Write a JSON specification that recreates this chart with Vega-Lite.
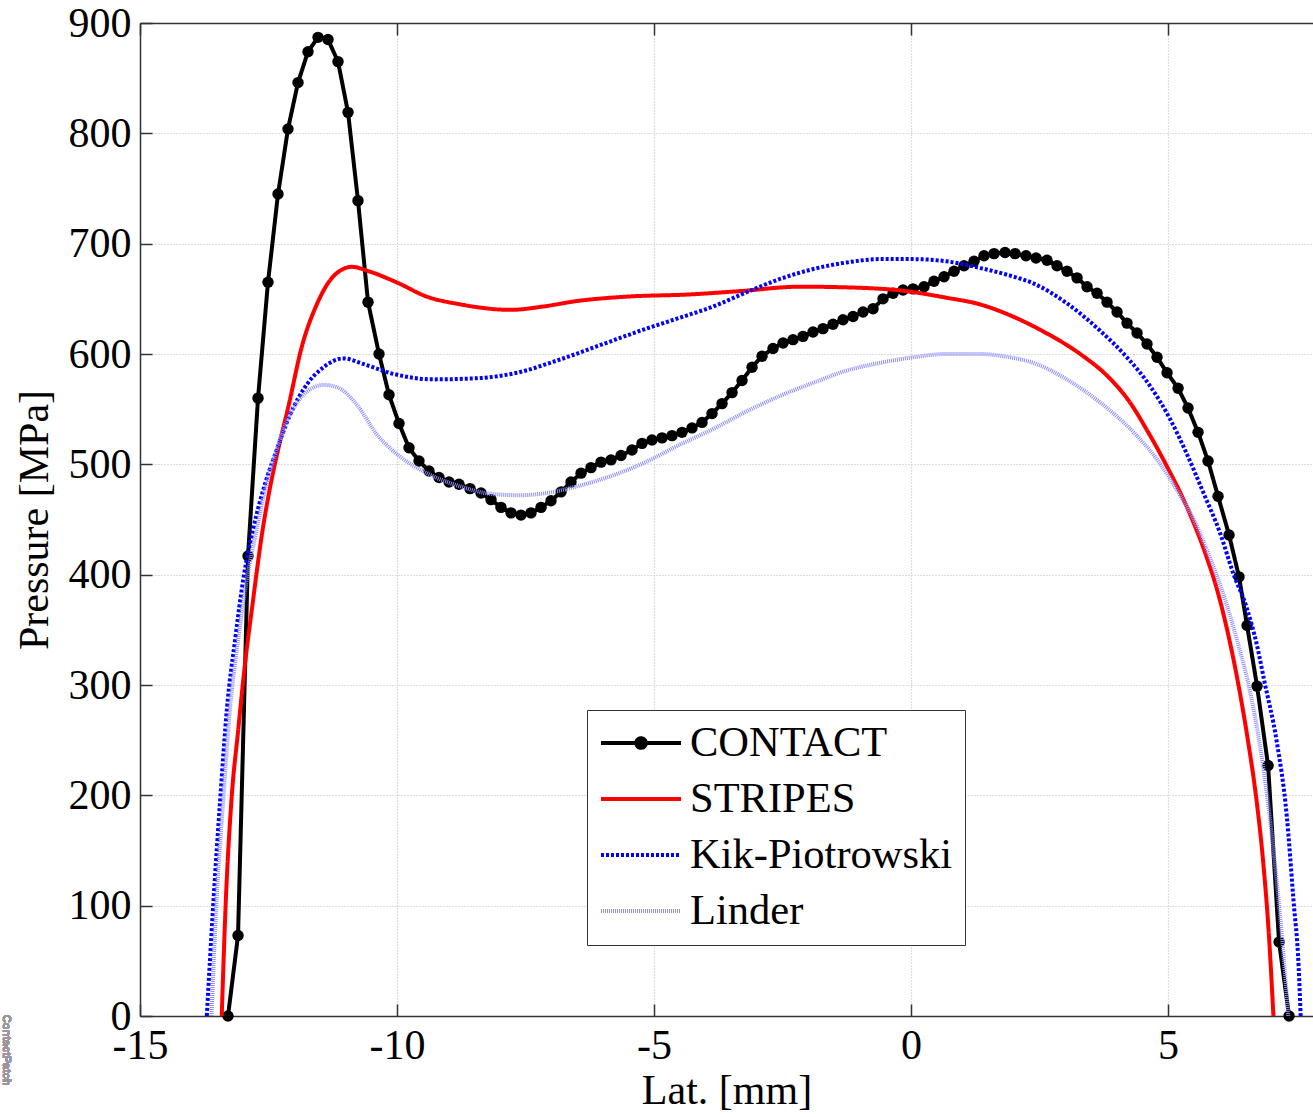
{
  "$schema": "https://vega.github.io/schema/vega-lite/v6.json",
  "width": 1173,
  "height": 993,
  "autosize": {"type": "none"},
  "padding": {"left": 140, "top": 23, "right": 0, "bottom": 101},
  "background": "white",
  "config": {"view": {"stroke": null}, "font": "Liberation Serif"},
  "data": {"values": [
    {"series":"CONTACT","lat":-13.288,"pressure":0},
    {"series":"CONTACT","lat":-13.093,"pressure":73},
    {"series":"CONTACT","lat":-12.899,"pressure":417},
    {"series":"CONTACT","lat":-12.704,"pressure":560},
    {"series":"CONTACT","lat":-12.510,"pressure":665},
    {"series":"CONTACT","lat":-12.315,"pressure":745},
    {"series":"CONTACT","lat":-12.121,"pressure":804},
    {"series":"CONTACT","lat":-11.926,"pressure":846},
    {"series":"CONTACT","lat":-11.732,"pressure":874},
    {"series":"CONTACT","lat":-11.537,"pressure":887},
    {"series":"CONTACT","lat":-11.342,"pressure":885},
    {"series":"CONTACT","lat":-11.148,"pressure":865},
    {"series":"CONTACT","lat":-10.953,"pressure":819},
    {"series":"CONTACT","lat":-10.759,"pressure":739},
    {"series":"CONTACT","lat":-10.564,"pressure":647},
    {"series":"CONTACT","lat":-10.350,"pressure":600},
    {"series":"CONTACT","lat":-10.156,"pressure":563},
    {"series":"CONTACT","lat":-9.961,"pressure":537},
    {"series":"CONTACT","lat":-9.767,"pressure":515},
    {"series":"CONTACT","lat":-9.572,"pressure":503},
    {"series":"CONTACT","lat":-9.377,"pressure":494},
    {"series":"CONTACT","lat":-9.183,"pressure":488},
    {"series":"CONTACT","lat":-8.988,"pressure":484},
    {"series":"CONTACT","lat":-8.794,"pressure":482},
    {"series":"CONTACT","lat":-8.580,"pressure":478},
    {"series":"CONTACT","lat":-8.366,"pressure":474},
    {"series":"CONTACT","lat":-8.171,"pressure":468},
    {"series":"CONTACT","lat":-7.977,"pressure":461},
    {"series":"CONTACT","lat":-7.782,"pressure":456},
    {"series":"CONTACT","lat":-7.588,"pressure":454},
    {"series":"CONTACT","lat":-7.393,"pressure":456},
    {"series":"CONTACT","lat":-7.198,"pressure":461},
    {"series":"CONTACT","lat":-7.004,"pressure":467},
    {"series":"CONTACT","lat":-6.809,"pressure":475},
    {"series":"CONTACT","lat":-6.615,"pressure":484},
    {"series":"CONTACT","lat":-6.420,"pressure":492},
    {"series":"CONTACT","lat":-6.226,"pressure":497},
    {"series":"CONTACT","lat":-6.031,"pressure":502},
    {"series":"CONTACT","lat":-5.837,"pressure":504},
    {"series":"CONTACT","lat":-5.642,"pressure":508},
    {"series":"CONTACT","lat":-5.428,"pressure":513},
    {"series":"CONTACT","lat":-5.233,"pressure":519},
    {"series":"CONTACT","lat":-5.039,"pressure":522},
    {"series":"CONTACT","lat":-4.844,"pressure":524},
    {"series":"CONTACT","lat":-4.650,"pressure":526},
    {"series":"CONTACT","lat":-4.455,"pressure":529},
    {"series":"CONTACT","lat":-4.261,"pressure":533},
    {"series":"CONTACT","lat":-4.066,"pressure":538},
    {"series":"CONTACT","lat":-3.872,"pressure":546},
    {"series":"CONTACT","lat":-3.677,"pressure":555},
    {"series":"CONTACT","lat":-3.482,"pressure":565},
    {"series":"CONTACT","lat":-3.288,"pressure":576},
    {"series":"CONTACT","lat":-3.093,"pressure":588},
    {"series":"CONTACT","lat":-2.899,"pressure":598},
    {"series":"CONTACT","lat":-2.685,"pressure":605},
    {"series":"CONTACT","lat":-2.490,"pressure":610},
    {"series":"CONTACT","lat":-2.296,"pressure":613},
    {"series":"CONTACT","lat":-2.101,"pressure":616},
    {"series":"CONTACT","lat":-1.907,"pressure":620},
    {"series":"CONTACT","lat":-1.712,"pressure":623},
    {"series":"CONTACT","lat":-1.518,"pressure":627},
    {"series":"CONTACT","lat":-1.323,"pressure":631},
    {"series":"CONTACT","lat":-1.128,"pressure":634},
    {"series":"CONTACT","lat":-0.934,"pressure":638},
    {"series":"CONTACT","lat":-0.739,"pressure":641},
    {"series":"CONTACT","lat":-0.545,"pressure":650},
    {"series":"CONTACT","lat":-0.350,"pressure":655},
    {"series":"CONTACT","lat":-0.156,"pressure":658},
    {"series":"CONTACT","lat":0.039,"pressure":659},
    {"series":"CONTACT","lat":0.253,"pressure":661},
    {"series":"CONTACT","lat":0.447,"pressure":666},
    {"series":"CONTACT","lat":0.642,"pressure":670},
    {"series":"CONTACT","lat":0.837,"pressure":675},
    {"series":"CONTACT","lat":1.031,"pressure":680},
    {"series":"CONTACT","lat":1.226,"pressure":684},
    {"series":"CONTACT","lat":1.420,"pressure":689},
    {"series":"CONTACT","lat":1.615,"pressure":691},
    {"series":"CONTACT","lat":1.829,"pressure":692},
    {"series":"CONTACT","lat":2.023,"pressure":691},
    {"series":"CONTACT","lat":2.237,"pressure":689},
    {"series":"CONTACT","lat":2.432,"pressure":687},
    {"series":"CONTACT","lat":2.646,"pressure":685},
    {"series":"CONTACT","lat":2.840,"pressure":680},
    {"series":"CONTACT","lat":3.035,"pressure":675},
    {"series":"CONTACT","lat":3.230,"pressure":669},
    {"series":"CONTACT","lat":3.424,"pressure":661},
    {"series":"CONTACT","lat":3.619,"pressure":655},
    {"series":"CONTACT","lat":3.813,"pressure":647},
    {"series":"CONTACT","lat":4.008,"pressure":638},
    {"series":"CONTACT","lat":4.202,"pressure":628},
    {"series":"CONTACT","lat":4.397,"pressure":619},
    {"series":"CONTACT","lat":4.591,"pressure":609},
    {"series":"CONTACT","lat":4.786,"pressure":597},
    {"series":"CONTACT","lat":4.981,"pressure":583},
    {"series":"CONTACT","lat":5.195,"pressure":569},
    {"series":"CONTACT","lat":5.389,"pressure":551},
    {"series":"CONTACT","lat":5.584,"pressure":529},
    {"series":"CONTACT","lat":5.778,"pressure":503},
    {"series":"CONTACT","lat":5.973,"pressure":471},
    {"series":"CONTACT","lat":6.187,"pressure":436},
    {"series":"CONTACT","lat":6.381,"pressure":398},
    {"series":"CONTACT","lat":6.537,"pressure":354},
    {"series":"CONTACT","lat":6.732,"pressure":299},
    {"series":"CONTACT","lat":6.946,"pressure":227},
    {"series":"CONTACT","lat":7.160,"pressure":67},
    {"series":"CONTACT","lat":7.354,"pressure":0},

    {"series":"STRIPES","lat":-13.41,"pressure":0},
    {"series":"STRIPES","lat":-13.33,"pressure":105},
    {"series":"STRIPES","lat":-13.22,"pressure":196},
    {"series":"STRIPES","lat":-13.09,"pressure":259},
    {"series":"STRIPES","lat":-12.96,"pressure":318},
    {"series":"STRIPES","lat":-12.80,"pressure":377},
    {"series":"STRIPES","lat":-12.63,"pressure":436},
    {"series":"STRIPES","lat":-12.47,"pressure":479},
    {"series":"STRIPES","lat":-12.31,"pressure":514},
    {"series":"STRIPES","lat":-12.11,"pressure":553},
    {"series":"STRIPES","lat":-11.85,"pressure":607},
    {"series":"STRIPES","lat":-11.56,"pressure":645},
    {"series":"STRIPES","lat":-11.30,"pressure":667},
    {"series":"STRIPES","lat":-11.05,"pressure":677},
    {"series":"STRIPES","lat":-10.88,"pressure":679},
    {"series":"STRIPES","lat":-10.55,"pressure":675},
    {"series":"STRIPES","lat":-10.01,"pressure":665},
    {"series":"STRIPES","lat":-9.42,"pressure":652},
    {"series":"STRIPES","lat":-8.77,"pressure":645},
    {"series":"STRIPES","lat":-7.79,"pressure":640},
    {"series":"STRIPES","lat":-7.16,"pressure":643},
    {"series":"STRIPES","lat":-6.50,"pressure":648},
    {"series":"STRIPES","lat":-5.53,"pressure":652},
    {"series":"STRIPES","lat":-4.30,"pressure":654},
    {"series":"STRIPES","lat":-3.33,"pressure":657},
    {"series":"STRIPES","lat":-2.16,"pressure":661},
    {"series":"STRIPES","lat":-0.99,"pressure":660},
    {"series":"STRIPES","lat":-0.28,"pressure":658},
    {"series":"STRIPES","lat":0.69,"pressure":651},
    {"series":"STRIPES","lat":1.34,"pressure":645},
    {"series":"STRIPES","lat":1.93,"pressure":635},
    {"series":"STRIPES","lat":2.51,"pressure":622},
    {"series":"STRIPES","lat":3.35,"pressure":598},
    {"series":"STRIPES","lat":3.80,"pressure":581},
    {"series":"STRIPES","lat":4.26,"pressure":556},
    {"series":"STRIPES","lat":4.59,"pressure":531},
    {"series":"STRIPES","lat":4.98,"pressure":498},
    {"series":"STRIPES","lat":5.36,"pressure":462},
    {"series":"STRIPES","lat":5.75,"pressure":416},
    {"series":"STRIPES","lat":5.95,"pressure":387},
    {"series":"STRIPES","lat":6.14,"pressure":352},
    {"series":"STRIPES","lat":6.37,"pressure":300},
    {"series":"STRIPES","lat":6.56,"pressure":248},
    {"series":"STRIPES","lat":6.72,"pressure":196},
    {"series":"STRIPES","lat":6.85,"pressure":140},
    {"series":"STRIPES","lat":6.96,"pressure":75},
    {"series":"STRIPES","lat":7.05,"pressure":0},

    {"series":"Kik-Piotrowski","lat":-13.70,"pressure":0},
    {"series":"Kik-Piotrowski","lat":-13.57,"pressure":105},
    {"series":"Kik-Piotrowski","lat":-13.44,"pressure":196},
    {"series":"Kik-Piotrowski","lat":-13.31,"pressure":278},
    {"series":"Kik-Piotrowski","lat":-13.15,"pressure":341},
    {"series":"Kik-Piotrowski","lat":-12.99,"pressure":396},
    {"series":"Kik-Piotrowski","lat":-12.80,"pressure":441},
    {"series":"Kik-Piotrowski","lat":-12.57,"pressure":482},
    {"series":"Kik-Piotrowski","lat":-12.34,"pressure":513},
    {"series":"Kik-Piotrowski","lat":-12.08,"pressure":545},
    {"series":"Kik-Piotrowski","lat":-11.76,"pressure":572},
    {"series":"Kik-Piotrowski","lat":-11.43,"pressure":588},
    {"series":"Kik-Piotrowski","lat":-11.04,"pressure":596},
    {"series":"Kik-Piotrowski","lat":-10.66,"pressure":591},
    {"series":"Kik-Piotrowski","lat":-10.07,"pressure":582},
    {"series":"Kik-Piotrowski","lat":-9.29,"pressure":577},
    {"series":"Kik-Piotrowski","lat":-8.45,"pressure":578},
    {"series":"Kik-Piotrowski","lat":-7.67,"pressure":583},
    {"series":"Kik-Piotrowski","lat":-6.83,"pressure":595},
    {"series":"Kik-Piotrowski","lat":-5.99,"pressure":609},
    {"series":"Kik-Piotrowski","lat":-5.21,"pressure":622},
    {"series":"Kik-Piotrowski","lat":-4.49,"pressure":633},
    {"series":"Kik-Piotrowski","lat":-3.85,"pressure":643},
    {"series":"Kik-Piotrowski","lat":-3.20,"pressure":656},
    {"series":"Kik-Piotrowski","lat":-2.55,"pressure":668},
    {"series":"Kik-Piotrowski","lat":-1.90,"pressure":677},
    {"series":"Kik-Piotrowski","lat":-1.25,"pressure":683},
    {"series":"Kik-Piotrowski","lat":-0.60,"pressure":686},
    {"series":"Kik-Piotrowski","lat":0.04,"pressure":686},
    {"series":"Kik-Piotrowski","lat":0.69,"pressure":684},
    {"series":"Kik-Piotrowski","lat":1.34,"pressure":678},
    {"series":"Kik-Piotrowski","lat":1.93,"pressure":671},
    {"series":"Kik-Piotrowski","lat":2.38,"pressure":664},
    {"series":"Kik-Piotrowski","lat":3.03,"pressure":646},
    {"series":"Kik-Piotrowski","lat":3.68,"pressure":621},
    {"series":"Kik-Piotrowski","lat":4.20,"pressure":597},
    {"series":"Kik-Piotrowski","lat":4.65,"pressure":571},
    {"series":"Kik-Piotrowski","lat":5.04,"pressure":541},
    {"series":"Kik-Piotrowski","lat":5.36,"pressure":510},
    {"series":"Kik-Piotrowski","lat":5.69,"pressure":474},
    {"series":"Kik-Piotrowski","lat":6.01,"pressure":438},
    {"series":"Kik-Piotrowski","lat":6.27,"pressure":401},
    {"series":"Kik-Piotrowski","lat":6.53,"pressure":370},
    {"series":"Kik-Piotrowski","lat":6.73,"pressure":336},
    {"series":"Kik-Piotrowski","lat":6.88,"pressure":302},
    {"series":"Kik-Piotrowski","lat":7.11,"pressure":250},
    {"series":"Kik-Piotrowski","lat":7.31,"pressure":181},
    {"series":"Kik-Piotrowski","lat":7.44,"pressure":105},
    {"series":"Kik-Piotrowski","lat":7.54,"pressure":45},
    {"series":"Kik-Piotrowski","lat":7.58,"pressure":0},

    {"series":"Linder","lat":-13.61,"pressure":0},
    {"series":"Linder","lat":-13.51,"pressure":105},
    {"series":"Linder","lat":-13.38,"pressure":196},
    {"series":"Linder","lat":-13.25,"pressure":278},
    {"series":"Linder","lat":-13.09,"pressure":341},
    {"series":"Linder","lat":-12.92,"pressure":396},
    {"series":"Linder","lat":-12.73,"pressure":441},
    {"series":"Linder","lat":-12.54,"pressure":482},
    {"series":"Linder","lat":-12.31,"pressure":518},
    {"series":"Linder","lat":-12.08,"pressure":545},
    {"series":"Linder","lat":-11.82,"pressure":563},
    {"series":"Linder","lat":-11.43,"pressure":572},
    {"series":"Linder","lat":-11.17,"pressure":570},
    {"series":"Linder","lat":-10.78,"pressure":554},
    {"series":"Linder","lat":-10.39,"pressure":527},
    {"series":"Linder","lat":-9.94,"pressure":507},
    {"series":"Linder","lat":-9.42,"pressure":492},
    {"series":"Linder","lat":-8.77,"pressure":480},
    {"series":"Linder","lat":-8.13,"pressure":473},
    {"series":"Linder","lat":-7.61,"pressure":472},
    {"series":"Linder","lat":-7.09,"pressure":474},
    {"series":"Linder","lat":-6.50,"pressure":480},
    {"series":"Linder","lat":-5.86,"pressure":489},
    {"series":"Linder","lat":-5.21,"pressure":501},
    {"series":"Linder","lat":-4.49,"pressure":518},
    {"series":"Linder","lat":-3.85,"pressure":532},
    {"series":"Linder","lat":-3.20,"pressure":548},
    {"series":"Linder","lat":-2.55,"pressure":562},
    {"series":"Linder","lat":-1.90,"pressure":574},
    {"series":"Linder","lat":-1.25,"pressure":585},
    {"series":"Linder","lat":-0.60,"pressure":592},
    {"series":"Linder","lat":0.04,"pressure":597},
    {"series":"Linder","lat":0.69,"pressure":600},
    {"series":"Linder","lat":1.34,"pressure":600},
    {"series":"Linder","lat":1.93,"pressure":597},
    {"series":"Linder","lat":2.38,"pressure":592},
    {"series":"Linder","lat":3.03,"pressure":577},
    {"series":"Linder","lat":3.68,"pressure":556},
    {"series":"Linder","lat":4.33,"pressure":529},
    {"series":"Linder","lat":4.84,"pressure":501},
    {"series":"Linder","lat":5.17,"pressure":477},
    {"series":"Linder","lat":5.49,"pressure":451},
    {"series":"Linder","lat":5.82,"pressure":415},
    {"series":"Linder","lat":6.14,"pressure":373},
    {"series":"Linder","lat":6.34,"pressure":341},
    {"series":"Linder","lat":6.60,"pressure":293},
    {"series":"Linder","lat":6.85,"pressure":226},
    {"series":"Linder","lat":7.05,"pressure":151},
    {"series":"Linder","lat":7.21,"pressure":75},
    {"series":"Linder","lat":7.34,"pressure":0}
  ]},
  "layer": [
    {
      "transform": [{"filter": "datum.series === 'CONTACT'"}],
      "mark": {"type": "point", "filled": true, "shape": "circle", "size": 130, "color": "black", "opacity": 1},
      "encoding": {
        "x": {"field": "lat", "type": "quantitative",
          "scale": {"domain": [-15, 7.82], "nice": false, "zero": false},
          "axis": {"orient": "bottom", "values": [-15, -10, -5, 0, 5], "labelExpr": "'' + datum.value",
            "labelFont": "Liberation Serif", "labelFontSize": 42, "labelColor": "black",
            "labelFlush": false, "labelOverlap": false, "labelPadding": 21,
            "tickSize": -12, "tickColor": "#333", "tickWidth": 1.5,
            "domainColor": "#333", "domainWidth": 1.5,
            "grid": true, "gridColor": "#bcbcbc", "gridDash": [1, 2], "gridWidth": 1.2,
            "title": "Lat. [mm]", "titleFont": "Liberation Serif", "titleFontSize": 42,
            "titleFontWeight": "normal", "titleColor": "black", "titlePadding": 4}},
        "y": {"field": "pressure", "type": "quantitative",
          "scale": {"domain": [0, 900], "nice": false},
          "axis": {"values": [0, 100, 200, 300, 400, 500, 600, 700, 800, 900],
            "labelFont": "Liberation Serif", "labelFontSize": 42, "labelColor": "black",
            "labelFlush": false, "labelOverlap": false, "labelPadding": 21,
            "tickSize": -12, "tickColor": "#333", "tickWidth": 1.5,
            "domainColor": "#333", "domainWidth": 1.5,
            "grid": true, "gridColor": "#bcbcbc", "gridDash": [1, 2], "gridWidth": 1.2,
            "title": "Pressure [MPa]", "titleFont": "Liberation Serif", "titleFontSize": 42,
            "titleFontWeight": "normal", "titleColor": "black", "titlePadding": 12}}
      }
    },
    {
      "transform": [{"filter": "datum.series === 'CONTACT'"}],
      "mark": {"type": "line", "strokeWidth": 4, "interpolate": "linear"},
      "encoding": {
        "x": {"field": "lat", "type": "quantitative",
          "scale": {"domain": [-15, 7.82], "nice": false, "zero": false},
          "axis": {"orient": "top", "values": [-15, -10, -5, 0, 5], "labels": false,
            "tickSize": -12, "tickColor": "#333", "tickWidth": 1.5,
            "domainColor": "#333", "domainWidth": 1.5, "grid": false, "title": null}},
        "y": {"field": "pressure", "type": "quantitative", "scale": {"domain": [0, 900], "nice": false}},
        "color": {"field": "series", "type": "nominal",
          "scale": {"domain": ["CONTACT", "STRIPES", "Kik-Piotrowski", "Linder"],
                    "range": ["#000000", "#ff0000", "#0000ff", "#8c8cff"]},
          "legend": {"title": null, "orient": "none", "legendX": 447, "legendY": 687,
            "symbolType": "stroke", "symbolSize": 6400, "symbolStrokeWidth": 4,
            "clipHeight": 42, "rowPadding": 13, "padding": 12, "labelOffset": 7,
            "labelFont": "Liberation Serif", "labelFontSize": 42.5, "labelColor": "black",
            "labelLimit": 500, "strokeColor": "#333", "fillColor": "white",
            "encode": {"symbols": {"update": {
              "shape": {"signal": "datum.value === 'CONTACT' ? 'M-1,0L1,0M-0.12,0A0.12,0.12,0,1,1,0.12,0A0.12,0.12,0,1,1,-0.12,0' : 'stroke'"},
              "fill": {"signal": "datum.value === 'CONTACT' ? '#000000' : 'transparent'"}
            }}}}},
        "strokeDash": {"field": "series", "type": "nominal",
          "scale": {"domain": ["CONTACT", "STRIPES", "Kik-Piotrowski", "Linder"],
                    "range": [[1, 0], [1, 0], [3, 2], [1, 1]]}}
      }
    },
    {
      "transform": [{"filter": "datum.series !== 'CONTACT'"}],
      "mark": {"type": "line", "strokeWidth": 4, "interpolate": "monotone"},
      "encoding": {
        "x": {"field": "lat", "type": "quantitative",
          "scale": {"domain": [-15, 7.82], "nice": false, "zero": false}, "axis": null},
        "y": {"field": "pressure", "type": "quantitative", "scale": {"domain": [0, 900], "nice": false}},
        "color": {"field": "series", "type": "nominal",
          "scale": {"domain": ["CONTACT", "STRIPES", "Kik-Piotrowski", "Linder"],
                    "range": ["#000000", "#ff0000", "#0000ff", "#8c8cff"]}},
        "strokeDash": {"field": "series", "type": "nominal",
          "scale": {"domain": ["CONTACT", "STRIPES", "Kik-Piotrowski", "Linder"],
                    "range": [[1, 0], [1, 0], [3, 2], [1, 1]]}}
      }
    },
    {
      "mark": {"type": "text", "angle": 90, "fontSize": 11, "font": "Liberation Sans", "fontWeight": "bold", "color": "#999999", "align": "center", "baseline": "middle"},
      "encoding": {
        "x": {"datum": -17.6, "type": "quantitative", "scale": {"domain": [-15, 7.82], "nice": false, "zero": false}, "axis": null},
        "y": {"datum": -31, "type": "quantitative", "scale": {"domain": [0, 900], "nice": false}},
        "text": {"value": "ContactPatch"}
      }
    }
  ],
  "resolve": {"axis": {"x": "independent"}}
}
